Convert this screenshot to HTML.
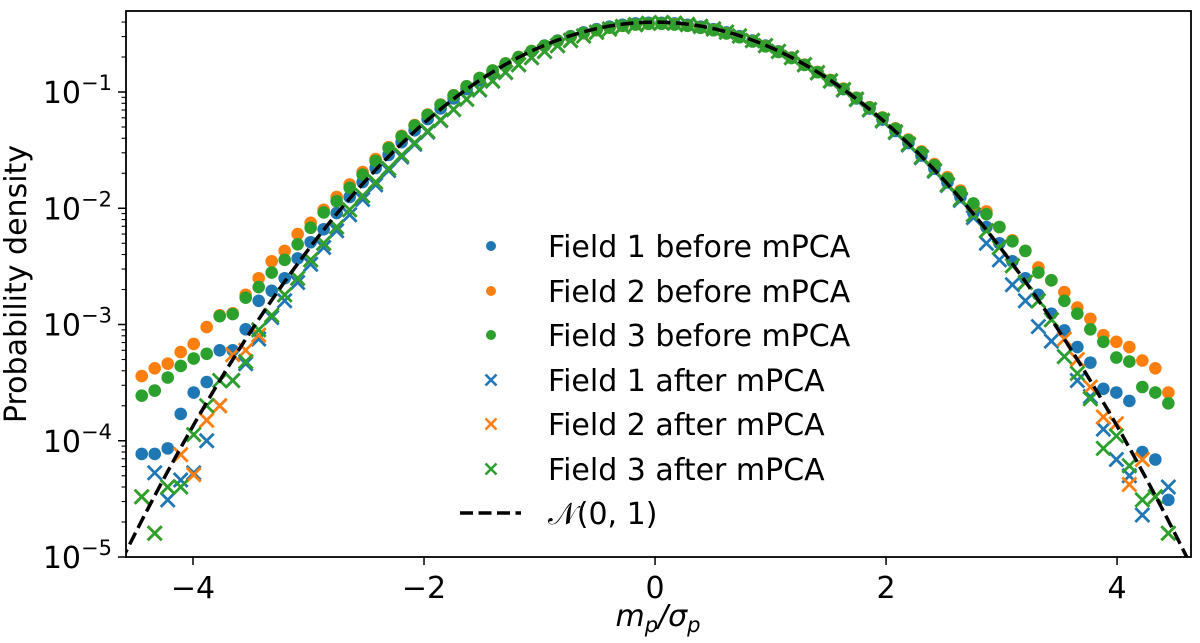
<!DOCTYPE html>
<html><head><meta charset="utf-8"><style>
html,body{margin:0;padding:0;background:#fff;}
svg{display:block;font-family:"DejaVu Sans","Liberation Sans",sans-serif;}
</style></head><body>
<svg id="chart" width="1200" height="643" viewBox="0 0 1200 643" xmlns="http://www.w3.org/2000/svg">
<rect x="0" y="0" width="1200" height="643" fill="#fff"/>
<g id="marks"></g>
<g id="axes"></g>
<g id="legend"></g>
</svg>
<script>
const binCenters = [];
for (let k = 0; k < 80; k++) binCenters.push(-4.44375 + 0.1125 * k);

const f1Before = [7.7e-5,7.7e-5,8.6e-5,1.7e-4,2.6e-4,3.2e-4,6.0e-4,6.0e-4,9.1e-4,1.6e-3,1.95e-3,2.5e-3,3.7e-3,5.1e-3,6.6e-3,9.1e-3,
.0125,.0168,.0222,.0288,.0370,.0468,.0585,.0722,.0880,.106,.126,.148,.172,.198,.224,.251,.277,.302,.326,.347,.365,.379,.389,.394,
.394,.389,.379,.365,.347,.326,.302,.277,.251,.224,.198,.172,.148,.126,.106,.0880,.0720,.0580,.0462,.0364,.0284,.0219,.0167,.0125,
9.1e-3,6.9e-3,5.0e-3,3.5e-3,2.5e-3,1.8e-3,1.24e-3,8.9e-4,6.4e-4,4.7e-4,2.8e-4,2.6e-4,2.2e-4,8.0e-5,6.9e-5,3.1e-5];
const f2Before = [3.6e-4,4.2e-4,4.6e-4,5.8e-4,6.8e-4,9.5e-4,1.2e-3,1.25e-3,1.8e-3,2.5e-3,3.5e-3,4.3e-3,6.0e-3,7.5e-3,9.7e-3,.0125,
.0160,.0205,.0265,.0335,.0420,.0520,.0640,.0780,.0940,.112,.132,.153,.176,.200,.225,.250,.275,.299,.321,.341,.358,.371,.381,.386,
.387,.382,.372,.358,.341,.320,.297,.273,.248,.222,.197,.172,.149,.127,.107,.0895,.0740,.0605,.0487,.0390,.0308,.0240,.0185,.0142,
.0108,9.4e-3,6.9e-3,5.3e-3,4.3e-3,3.1e-3,2.4e-3,1.9e-3,1.4e-3,1.12e-3,8.1e-4,7.1e-4,6.4e-4,4.9e-4,4.2e-4,2.6e-4];
const f3Before = [2.44e-4,2.7e-4,3.5e-4,4.4e-4,5.1e-4,5.6e-4,1.18e-3,1.23e-3,1.7e-3,2.1e-3,2.8e-3,3.6e-3,4.9e-3,6.8e-3,9.2e-3,.0115,
.0150,.0195,.0255,.0330,.0415,.0515,.0635,.0775,.0935,.112,.132,.153,.176,.200,.225,.250,.275,.299,.321,.341,.358,.371,.381,.386,
.386,.381,.371,.357,.340,.319,.296,.272,.247,.221,.196,.171,.148,.126,.106,.0890,.0735,.0600,.0483,.0385,.0303,.0235,.0180,.0138,
.0110,8.9e-3,6.9e-3,5.2e-3,4.3e-3,2.8e-3,2.4e-3,1.6e-3,1.24e-3,9.1e-4,7.1e-4,5.2e-4,4.8e-4,2.9e-4,2.6e-4,2.1e-4];
const f1After = [null,5.3e-5,3.1e-5,4.6e-5,5.3e-5,1.0e-4,2.0e-4,3.3e-4,4.6e-4,7.5e-4,1.15e-3,1.6e-3,2.3e-3,3.3e-3,4.6e-3,6.4e-3,
.0088,.0119,.0159,.0211,.0276,.0355,.0452,.0568,.0705,.0865,.104,.124,.147,.171,.197,.223,.250,.277,.303,.327,.348,.366,.380,.390,
.395,.390,.380,.366,.348,.327,.303,.277,.250,.223,.197,.171,.146,.124,.104,.0860,.0700,.0563,.0448,.0350,.0272,.0208,.0157,.0117,
8.3e-3,5.0e-3,3.6e-3,2.2e-3,1.6e-3,9.6e-4,7.2e-4,5.3e-4,3.3e-4,2.4e-4,1.26e-4,6.9e-5,5.0e-5,2.3e-5,null,4.0e-5];
const f2After = [3.3e-5,1.6e-5,4.0e-5,7.6e-5,5.1e-5,1.5e-4,2.0e-4,5.5e-4,6.0e-4,8.1e-4,1.2e-3,1.8e-3,2.5e-3,3.6e-3,5.0e-3,6.9e-3,
.0097,.0128,.0168,.0220,.0285,.0365,.0460,.0575,.0710,.0870,.105,.125,.148,.172,.198,.224,.251,.278,.303,.327,.348,.366,.380,.390,
.395,.391,.381,.367,.349,.328,.304,.278,.251,.224,.198,.172,.147,.125,.105,.0868,.0708,.0570,.0454,.0356,.0277,.0212,.0160,.0120,
8.8e-3,6.4e-3,4.6e-3,3.2e-3,2.3e-3,1.6e-3,1.1e-3,7.5e-4,5.0e-4,2.9e-4,1.6e-4,1.4e-4,4.2e-5,6.9e-5,3.3e-5,1.6e-5];
const f3After = [3.3e-5,1.6e-5,4.0e-5,4.0e-5,1.13e-4,2.0e-4,3.3e-4,3.3e-4,4.8e-4,9.0e-4,1.2e-3,1.8e-3,2.5e-3,3.6e-3,5.0e-3,6.9e-3,
.0097,.0128,.0168,.0220,.0285,.0365,.0460,.0575,.0710,.0870,.105,.125,.148,.172,.198,.224,.251,.278,.303,.327,.348,.366,.380,.390,
.395,.391,.381,.367,.349,.328,.304,.278,.251,.224,.198,.172,.147,.125,.105,.0868,.0708,.0570,.0454,.0356,.0277,.0212,.0160,.0120,
8.8e-3,6.4e-3,4.6e-3,3.2e-3,2.3e-3,1.6e-3,1.1e-3,5.3e-4,3.8e-4,2.3e-4,8.6e-5,1.1e-4,6.1e-5,3.1e-5,3.3e-5,1.6e-5];

const xTicks = [-4, -2, 0, 2, 4];
const xTickLabels = ["\u22124", "\u22122", "0", "2", "4"];
const yTickExps = [-1, -2, -3, -4, -5];
const seriesNames = ["Field 1 before mPCA","Field 2 before mPCA","Field 3 before mPCA","Field 1 after mPCA","Field 2 after mPCA","Field 3 after mPCA"];

const NS = "http://www.w3.org/2000/svg";
const L = 126, R = 1191, T = 11, B = 557;
const xMin = -4.58, xMax = 4.64;
const logTop = -0.303, logBot = -5;
function sx(v){ return L + (v - xMin) / (xMax - xMin) * (R - L); }
function sy(v){ return T + (logTop - Math.log10(v)) / (logTop - logBot) * (B - T); }
function mk(tag, attrs, parent){
  const e = document.createElementNS(NS, tag);
  for (const k in attrs) e.setAttribute(k, attrs[k]);
  parent.appendChild(e); return e;
}
const marks = document.getElementById('marks');
const axes = document.getElementById('axes');
const legend = document.getElementById('legend');
const colors = ["#1f77b4","#ff7f0e","#2ca02c"];
const FS = 30, SUP = 21;

const clip = mk('clipPath', {id:'pc'}, marks);
mk('rect', {x:L, y:T, width:R-L, height:B-T}, clip);
const plotG = mk('g', {'clip-path':'url(#pc)'}, marks);

function drawX(g, cx, cy, h, color, w){
  return mk('path', {d:`M${cx-h},${cy-h}L${cx+h},${cy+h}M${cx-h},${cy+h}L${cx+h},${cy-h}`, stroke:color, 'stroke-width':w, fill:'none'}, g);
}
const beforeSets = [f1Before, f2Before, f3Before];
beforeSets.forEach((arr, si) => {
  const g = mk('g', {}, plotG);
  
  
  arr.forEach((v, i) => {
    if (v == null) return;
    const c = mk('circle', {cx:sx(binCenters[i]), cy:sy(v), r:6.3, fill:colors[si]}, g);
    
    
  });
});
const afterSets = [f1After, f2After, f3After];
afterSets.forEach((arr, si) => {
  const g = mk('g', {}, plotG);
  
  
  arr.forEach((v, i) => {
    if (v == null) return;
    const p = drawX(g, sx(binCenters[i]), sy(v), 7, colors[si], 2.8);
    
    
  });
});
let d = '';
for (let i = 0; i <= 400; i++) {
  const x = -4.62 + 9.24 * i / 400;
  const y = Math.exp(-x*x/2) / Math.sqrt(2*Math.PI);
  d += (i ? 'L' : 'M') + sx(x).toFixed(2) + ',' + sy(y).toFixed(2);
}
const curve = mk('path', {d:d, fill:'none', stroke:'#000', 'stroke-width':3.5, 'stroke-dasharray':'13,5.5'}, plotG);



const frame = mk('rect', {x:L, y:T, width:R-L, height:B-T, fill:'none', stroke:'#000', 'stroke-width':1.8}, axes);


xTicks.forEach((v, i) => {
  const x = sx(v);
  mk('line', {x1:x, y1:B, x2:x, y2:B+8, stroke:'#000', 'stroke-width':1.5}, axes);
  const t = mk('text', {x:x, y:B+41, 'font-size':FS, 'text-anchor':'middle'}, axes);
  t.textContent = xTickLabels[i];
  
  
});
yTickExps.forEach(e => {
  const y = sy(Math.pow(10, e));
  mk('line', {x1:L-8, y1:y, x2:L, y2:y, stroke:'#000', 'stroke-width':1.5}, axes);
  const t = mk('text', {x:L-14, y:y+11, 'font-size':FS, 'text-anchor':'end'}, axes);
  const a = mk('tspan', {}, t); a.textContent = '10';
  const b = mk('tspan', {dy:-13, 'font-size':SUP}, t); b.textContent = '\u2212' + (-e);
  
  
});
for (let e = -5; e <= 0; e++) {
  for (let m = 2; m <= 9; m++) {
    const v = m * Math.pow(10, e);
    const lg = Math.log10(v);
    if (lg > logTop || lg < logBot) continue;
    const y = sy(v);
    mk('line', {x1:L-4.5, y1:y, x2:L, y2:y, stroke:'#000', 'stroke-width':1.1}, axes);
  }
}
const ylx = 26;
const yl = mk('text', {x:ylx, y:(T+B)/2, 'font-size':FS, 'text-anchor':'middle', transform:`rotate(-90 ${ylx} ${(T+B)/2})`}, axes);
yl.textContent = 'Probability density';


const xl = mk('text', {x:658, y:626, 'font-size':FS, 'text-anchor':'middle', 'font-style':'italic'}, axes);
xl.innerHTML = 'm<tspan font-size="21" dy="6">p</tspan><tspan dy="-6">/σ</tspan><tspan font-size="21" dy="6">p</tspan>';



const rowY = [246, 291, 335, 380, 424, 469, 513];
const labels = seriesNames.concat(['\uD835\uDCA9(0, 1)']);
labels.forEach((name, i) => {
  const g = mk('g', {}, legend);
  
  
  const y = rowY[i];
  if (i < 3) mk('circle', {cx:491, cy:y, r:5, fill:colors[i]}, g);
  else if (i < 6) drawX(g, 491, y, 5.5, colors[i-3], 2.6);
  else mk('line', {x1:460, y1:y, x2:521, y2:y, stroke:'#000', 'stroke-width':3.5, 'stroke-dasharray':'13,5.5'}, g);
  const t = mk('text', {x:548, y:y+11, 'font-size':FS}, g);
  t.textContent = name;
});
</script>
</body></html>
